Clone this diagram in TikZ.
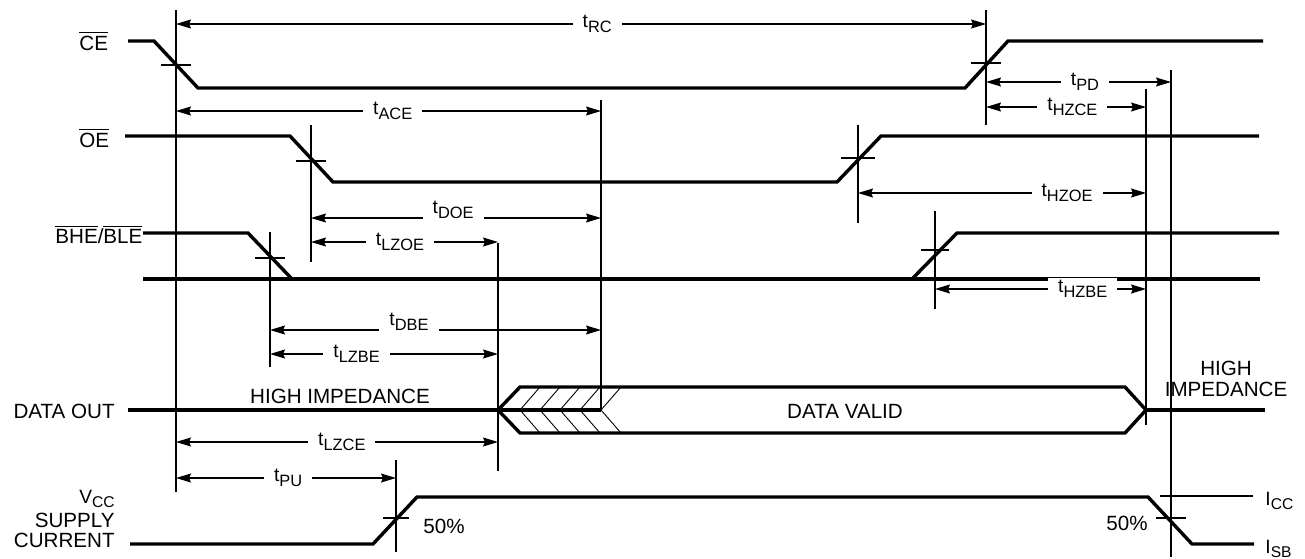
\documentclass[tikz,border=0pt]{standalone}
\usepackage{fontspec}
\setmainfont{Liberation Sans}
\usetikzlibrary{arrows.meta,calc}

\newcommand{\tsig}[1]{t\raisebox{-2.4pt}{\fontsize{8.2}{9}\selectfont #1}}
\newcommand{\lvl}[2]{#1\raisebox{-2.2pt}{\fontsize{7.8}{8}\selectfont #2}}

\tikzset{
  sig/.style={line width=1.7pt, line join=miter},
  guide/.style={line width=0.6pt},
  boldguide/.style={line width=1.1pt},
  hbar/.style={line width=0.6pt},
  hatch/.style={line width=0.45pt},
  dim/.style={line width=0.6pt, {Stealth[length=7.5pt,width=4.5pt,inset=1pt]}-{Stealth[length=7.5pt,width=4.5pt,inset=1pt]}},
  lbl/.style={fill=white, inner xsep=5pt, inner ysep=1pt, font=\fontsize{9.6}{10}\selectfont},
  lblup/.style={lbl, yshift=4pt},
  signame/.style={inner sep=0pt, font=\fontsize{10.3}{10}\selectfont}
}

\begin{document}
\begin{tikzpicture}[x=0.5pt, y=-0.5pt]
  \useasboundingbox (0,0) rectangle (1305,558);

  % x positions of the timing references
  \coordinate (ce1) at (176,0);
  \coordinate (ce2) at (986,0);
  \coordinate (oe1) at (311,0);
  \coordinate (oe2) at (858,0);
  \coordinate (be1) at (270,0);
  \coordinate (be2) at (935,0);
  \coordinate (dv)  at (601,0);
  \coordinate (lz)  at (498,0);
  \coordinate (hz)  at (1146,0);
  \coordinate (pu)  at (396,0);
  \coordinate (pd)  at (1171,0);

  \foreach \c/\a/\b in {ce1/10/492, ce2/10/125, oe1/125/262, oe2/125/223,
                        be1/232/367, be2/211/309, dv/100/410, pu/460/552, pd/70/557} {
    \draw [guide] ($(\c)+(0,\a)$) -- ($(\c)+(0,\b)$);
  }
  \draw [boldguide] ($(lz)+(0,243)$) -- ($(lz)+(0,471)$);
  \draw [boldguide] ($(hz)+(0,89)$) -- ($(hz)+(0,425)$);

  \foreach \c/\y/\w in {ce1/65/15, ce2/63/15, oe1/161/15, oe2/158/17,
                        be1/258/15, be2/250/14, pu/518/13, pd/518/15} {
    \draw [hbar] ($(\c)+(-\w,\y)$) -- ($(\c)+(\w,\y)$);
  }

  % signal names
  \node [signame, anchor=base west] (cename) at (79,50) {$\overline{\mbox{CE}}$};
  \node [signame, anchor=base west] (oename) at (79,147) {$\overline{\mbox{OE}}$};
  \node [signame, anchor=base west] (bename) at (55,243) {$\overline{\mbox{BHE}}$/$\overline{\mbox{BLE}}$};
  \node [signame, anchor=base east] (doname) at (115,418) {DATA OUT};
  \node [signame, anchor=base east, font=\fontsize{9.6}{10}\selectfont] (vccname) at (115,503) {\lvl{V}{CC}};
  \node [signame, anchor=base east] (supname) at (115,527) {SUPPLY};
  \node [signame, anchor=base east] (curname) at (115,547) {CURRENT};

  % waveforms
  \draw [sig] (128,41) -- (154,41) -- (198,88) -- (965,88) -- (1008,41) -- (1263,41);
  \draw [sig] (125,136) -- (290,136) -- (333,182) -- (837,182) -- (881,136) -- (1259,136);
  \draw [sig] (143,233) -- (248,233) -- (292,279);
  \draw [sig] (143,279) -- (1260,279);
  \draw [sig] (912,279) -- (957,233) -- (1279,233);
  \draw [sig] (128,410) -- (601,410);
  \draw [sig] (520,387) -- (498,410) -- (520,433) -- (1125,433) -- (1146,410) -- (1125,387) -- cycle;
  \draw [sig] (1146,410) -- (1265,410);
  \foreach \x in {520,540,560,580,601} {
    \draw [hatch] (\x+20,387) -- (\x,410) -- (\x+20,433);
  }
  \draw [sig] (130,544) -- (373,544) -- (417,497) -- (1148,497) -- (1192,544) -- (1254,544);
  \draw [guide] (1160,496) -- (1253,496);

  % timing parameters
  \draw [dim] ($(ce1)+(0,24)$)  -- node [lbl, pos=.52]  {\tsig{RC}}   ($(ce2)+(0,24)$);
  \draw [dim] ($(ce1)+(0,111)$) -- node [lbl, pos=.51]  {\tsig{ACE}}  ($(dv)+(0,111)$);
  \draw [dim] ($(ce2)+(0,82)$)  -- node [lbl, pos=.535] {\tsig{PD}}   ($(pd)+(0,82)$);
  \draw [dim] ($(ce2)+(0,107)$) -- node [lbl, pos=.54]  {\tsig{HZCE}} ($(hz)+(0,107)$);
  \draw [dim] ($(oe2)+(0,193)$) -- node [lbl, pos=.726] {\tsig{HZOE}} ($(hz)+(0,193)$);
  \draw [dim] ($(oe1)+(0,218)$) -- node [lblup, pos=.49] {\tsig{DOE}}  ($(dv)+(0,218)$);
  \draw [dim] ($(oe1)+(0,242)$) -- node [lbl, pos=.476] {\tsig{LZOE}} ($(lz)+(0,242)$);
  \draw [dim] ($(be2)+(0,289)$) -- node [lbl, pos=.70]  {\tsig{HZBE}} ($(hz)+(0,289)$);
  \draw [dim] ($(be1)+(0,330)$) -- node [lblup, pos=.42] {\tsig{DBE}}  ($(dv)+(0,330)$);
  \draw [dim] ($(be1)+(0,354)$) -- node [lbl, pos=.38]  {\tsig{LZBE}} ($(lz)+(0,354)$);
  \draw [dim] ($(ce1)+(0,442)$) -- node [lbl, pos=.515] {\tsig{LZCE}} ($(lz)+(0,442)$);
  \draw [dim] ($(ce1)+(0,478)$) -- node [lbl, pos=.51]  {\tsig{PU}}   ($(pu)+(0,478)$);

  % state labels
  \node [signame, anchor=base] (hiz1) at (340,403) {HIGH IMPEDANCE};
  \node [signame, anchor=base] (valid) at (845,418) {DATA VALID};
  \node [signame, align=center, font=\fontsize{10.3}{10.8}\selectfont] (hiz2) at (1226,379) {HIGH\\IMPEDANCE};
  \node [signame, anchor=base west] (pct1) at (423,533) {50\%};
  \node [signame, anchor=base east] (pct2) at (1148,530) {50\%};
  \node [signame, anchor=base west, font=\fontsize{9.6}{10}\selectfont] (icc) at (1265,505) {\lvl{I}{CC}};
  \node [signame, anchor=base west, font=\fontsize{9.6}{10}\selectfont] (isb) at (1265,553) {\lvl{I}{SB}};
\end{tikzpicture}
\end{document}
